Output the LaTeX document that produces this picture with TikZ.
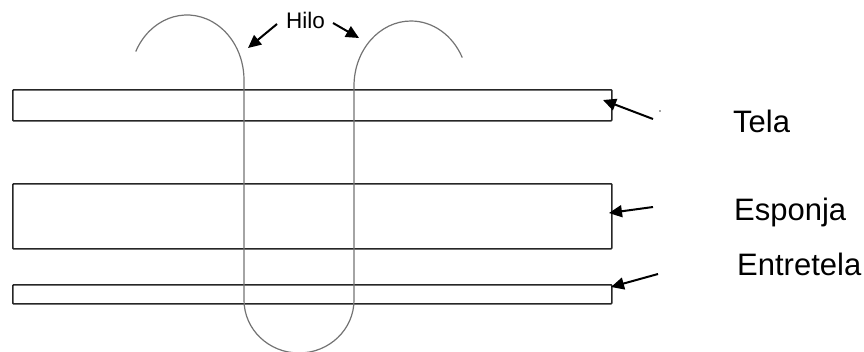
\documentclass[tikz,border=0pt]{standalone}
\usepackage{fontspec}
\setmainfont{Liberation Sans}
\usetikzlibrary{arrows.meta}
\begin{document}
\begin{tikzpicture}[x=1pt,y=-1pt,
  layer/.style={draw=black!85,line width=1.6pt,rounded corners=0.8pt,inner sep=0pt,anchor=north west},
  thread/.style={draw=black!55,line width=1.2pt},
  pointer/.style={draw=black,line width=2pt,-{Triangle[length=13pt,width=12pt]}},
  biglabel/.style={anchor=base west,inner sep=0pt,font=\fontsize{31}{37}\selectfont},
  smalllabel/.style={anchor=base west,inner sep=0pt,font=\fontsize{22.5}{27}\selectfont}]
\useasboundingbox (0,0) rectangle (864,351);

% fabric layers
\node[layer,minimum width=599pt,minimum height=31pt] (tela) at (12,89) {};
\node[layer,minimum width=599pt,minimum height=65pt] (esponja) at (12,183) {};
\node[layer,minimum width=599pt,minimum height=19pt] (entretela) at (12,284) {};

% the stitching thread
\begin{scope}
\clip (0,0) rectangle (864,351);
\draw[thread] (187,80) ++(154:57pt and 65pt) arc[start angle=154,end angle=0,x radius=57pt,y radius=65pt]
  -- (244,300) arc[start angle=180,end angle=360,x radius=55pt,y radius=53pt]
  -- (354,86) arc[start angle=180,end angle=26,x radius=57pt,y radius=65pt];
\end{scope}

% labels
\node[smalllabel] (hilo) at (286,28) {Hilo};
\node[biglabel] (ltela) at (733,132) {Tela};
\node[biglabel] (lesponja) at (734,220) {Esponja};
\node[biglabel] (lentretela) at (737,275) {Entretela};

% pointer arrows
\coordinate (hiloL) at (277,24);
\coordinate (hiloLtip) at (248,48);
\coordinate (hiloR) at (333,23);
\coordinate (hiloRtip) at (359,38);
\coordinate (telaT) at (653,119);
\coordinate (telaTip) at (603,100);
\coordinate (espT) at (653,207);
\coordinate (espTip) at (609,213);
\coordinate (entT) at (658,274);
\coordinate (entTip) at (611,287);
\draw[pointer] (hiloL) -- (hiloLtip);
\draw[pointer] (hiloR) -- (hiloRtip);
\draw[pointer] (telaT) -- (telaTip);
\draw[pointer] (espT) -- (espTip);
\draw[pointer] (entT) -- (entTip);
\fill[black!70] (660,111) circle (0.8pt);
\end{tikzpicture}
\end{document}
